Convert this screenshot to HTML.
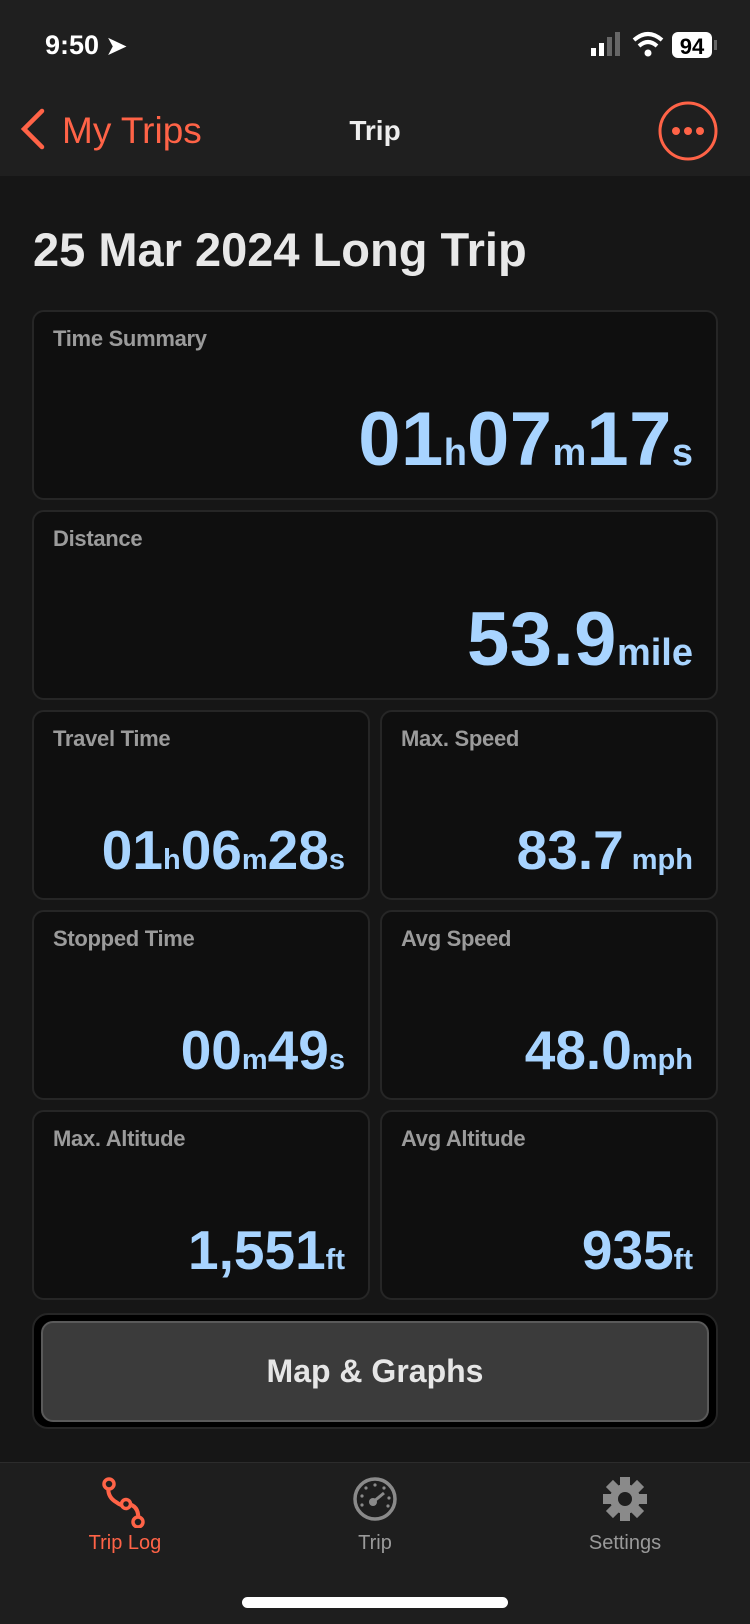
<!DOCTYPE html>
<html><head><meta charset="utf-8"><style>
*{margin:0;padding:0;box-sizing:border-box}
body{width:750px;height:1624px;background:#161616;font-family:"Liberation Sans",sans-serif;position:relative;overflow:hidden;color:#eee}
.abs{position:absolute}
.header{left:0;top:0;width:750px;height:176px;background:#1f1f1f}
.card{position:absolute;background:#0f0f0f;border:2px solid #262626;border-radius:12px}
.lbl{position:absolute;left:19px;top:14px;font-size:22px;font-weight:bold;color:#9b9b9b;letter-spacing:-0.3px}
.val{position:absolute;right:23px;bottom:20px;color:#a8d4ff;font-weight:bold;white-space:nowrap;line-height:1}
.val .u{letter-spacing:0}
.big{font-size:76px;letter-spacing:0.5px}.big .u{font-size:38px}
.sm{font-size:55px;letter-spacing:0}.sm .u{font-size:29px}
.tab{position:absolute;top:1462px;width:250px;text-align:center}
.tab .t{position:absolute;left:0;width:250px;top:70px;font-size:20px}
</style></head><body>
<div class="abs header"></div>
<div class="abs" style="left:45px;top:30px;font-size:27px;font-weight:bold;color:#fff">9:50 <span style="font-size:24px">➤</span></div>
<svg class="abs" style="left:588px;top:30px" width="135" height="32">
<rect x="3" y="18" width="5" height="8" fill="#fff"/><rect x="11" y="13" width="5" height="13" fill="#fff"/><rect x="19" y="7" width="5" height="19" fill="#666"/><rect x="27" y="2" width="5" height="24" fill="#666"/>
<path d="M46 10 Q60 -2 74 10" stroke="#fff" stroke-width="4" fill="none"/><path d="M51 16 Q60 8 69 16" stroke="#fff" stroke-width="4" fill="none"/><circle cx="60" cy="23" r="3.5" fill="#fff"/>
<rect x="84" y="2" width="40" height="26" rx="6" fill="#fff"/><text x="104" y="24" text-anchor="middle" font-size="22" font-weight="bold" fill="#000" font-family="Liberation Sans">94</text><rect x="126" y="10" width="3" height="10" fill="#666"/>
</svg>
<div class="abs" style="left:18px;top:107px;color:#ff6347;font-size:37px;white-space:nowrap">
<svg width="28" height="44" style="vertical-align:-8px"><path d="M24 4 L6 22 L24 40" stroke="#ff6347" stroke-width="4.5" fill="none" stroke-linecap="round"/></svg><span style="margin-left:16px">My Trips</span></div>
<div class="abs" style="left:322px;top:115px;width:106px;text-align:center;font-size:28px;font-weight:bold;color:#eee">Trip</div>
<svg class="abs" style="left:657px;top:100px" width="62" height="62"><circle cx="31" cy="31" r="28" stroke="#ff6347" stroke-width="3" fill="none"/><circle cx="19" cy="31" r="4" fill="#ff6347"/><circle cx="31" cy="31" r="4" fill="#ff6347"/><circle cx="43" cy="31" r="4" fill="#ff6347"/></svg>
<div class="abs" style="left:33px;top:222px;font-size:47px;font-weight:bold;color:#e8e8e8">25 Mar 2024 Long Trip</div>

<div class="card" style="left:32px;top:310px;width:686px;height:190px"><div class="lbl">Time Summary</div><div class="val big">01<span class="u">h</span>07<span class="u">m</span>17<span class="u">s</span></div></div>
<div class="card" style="left:32px;top:510px;width:686px;height:190px"><div class="lbl">Distance</div><div class="val big">53.9<span class="u">mile</span></div></div>
<div class="card" style="left:32px;top:710px;width:338px;height:190px"><div class="lbl">Travel Time</div><div class="val sm">01<span class="u">h</span>06<span class="u">m</span>28<span class="u">s</span></div></div>
<div class="card" style="left:380px;top:710px;width:338px;height:190px"><div class="lbl">Max. Speed</div><div class="val sm">83.7<span class="u"> mph</span></div></div>
<div class="card" style="left:32px;top:910px;width:338px;height:190px"><div class="lbl">Stopped Time</div><div class="val sm">00<span class="u">m</span>49<span class="u">s</span></div></div>
<div class="card" style="left:380px;top:910px;width:338px;height:190px"><div class="lbl">Avg Speed</div><div class="val sm">48.0<span class="u">mph</span></div></div>
<div class="card" style="left:32px;top:1110px;width:338px;height:190px"><div class="lbl">Max. Altitude</div><div class="val sm">1,551<span class="u">ft</span></div></div>
<div class="card" style="left:380px;top:1110px;width:338px;height:190px"><div class="lbl">Avg Altitude</div><div class="val sm">935<span class="u">ft</span></div></div>

<div class="abs" style="left:32px;top:1313px;width:686px;height:116px;background:#000;border:2px solid #262626;border-radius:16px"></div>
<div class="abs" style="left:41px;top:1321px;width:668px;height:101px;background:#3b3b3b;border:2px solid #5a5a5a;border-radius:12px;text-align:center;line-height:97px;font-size:32px;font-weight:bold;color:#e6e6e6">Map &amp; Graphs</div>

<div class="abs" style="left:0;top:1462px;width:750px;height:162px;background:#1e1e1e;border-top:1px solid #2c2c2c"></div>
<div class="tab" style="left:0">
<svg class="abs" style="left:100px;top:14px" width="50" height="52"><path d="M9 8 Q6 20 16 26 Q24 32 28 28 Q40 30 38 46" stroke="#ff6347" stroke-width="4" fill="none"/><circle cx="9" cy="8" r="5" fill="#1e1e1e" stroke="#ff6347" stroke-width="3.5"/><circle cx="26" cy="28" r="4.5" fill="#1e1e1e" stroke="#ff6347" stroke-width="3.5"/><circle cx="38" cy="46" r="5" fill="#1e1e1e" stroke="#ff6347" stroke-width="3.5"/></svg>
<div class="t" style="color:#ff6347">Trip Log</div></div>
<div class="tab" style="left:250px">
<svg class="abs" style="left:102px;top:14px" width="46" height="46"><circle cx="23" cy="23" r="20" stroke="#8a8a8a" stroke-width="3.5" fill="none"/><circle cx="21" cy="26" r="4" fill="#8a8a8a"/><path d="M21 26 L32 17" stroke="#8a8a8a" stroke-width="3"/><g fill="#8a8a8a"><circle cx="23" cy="9" r="1.6"/><circle cx="14" cy="12" r="1.6"/><circle cx="10" cy="20" r="1.6"/><circle cx="10" cy="29" r="1.6"/><circle cx="32" cy="12" r="1.6"/><circle cx="37" cy="22" r="1.6"/><circle cx="36" cy="30" r="1.6"/></g></svg>
<div class="t" style="color:#9a9a9a">Trip</div></div>
<div class="tab" style="left:500px">
<svg class="abs" style="left:102px;top:14px" width="46" height="46"><g fill="#8a8a8a" transform="translate(23 23)"><circle r="15"/><rect x="-5" y="-22" width="10" height="44"/><rect x="-5" y="-22" width="10" height="44" transform="rotate(45)"/><rect x="-5" y="-22" width="10" height="44" transform="rotate(90)"/><rect x="-5" y="-22" width="10" height="44" transform="rotate(135)"/></g><circle cx="23" cy="23" r="7" fill="#1e1e1e"/></svg>
<div class="t" style="color:#9a9a9a">Settings</div></div>
<div class="abs" style="left:242px;top:1597px;width:266px;height:11px;background:#fff;border-radius:6px"></div>
</body></html>
